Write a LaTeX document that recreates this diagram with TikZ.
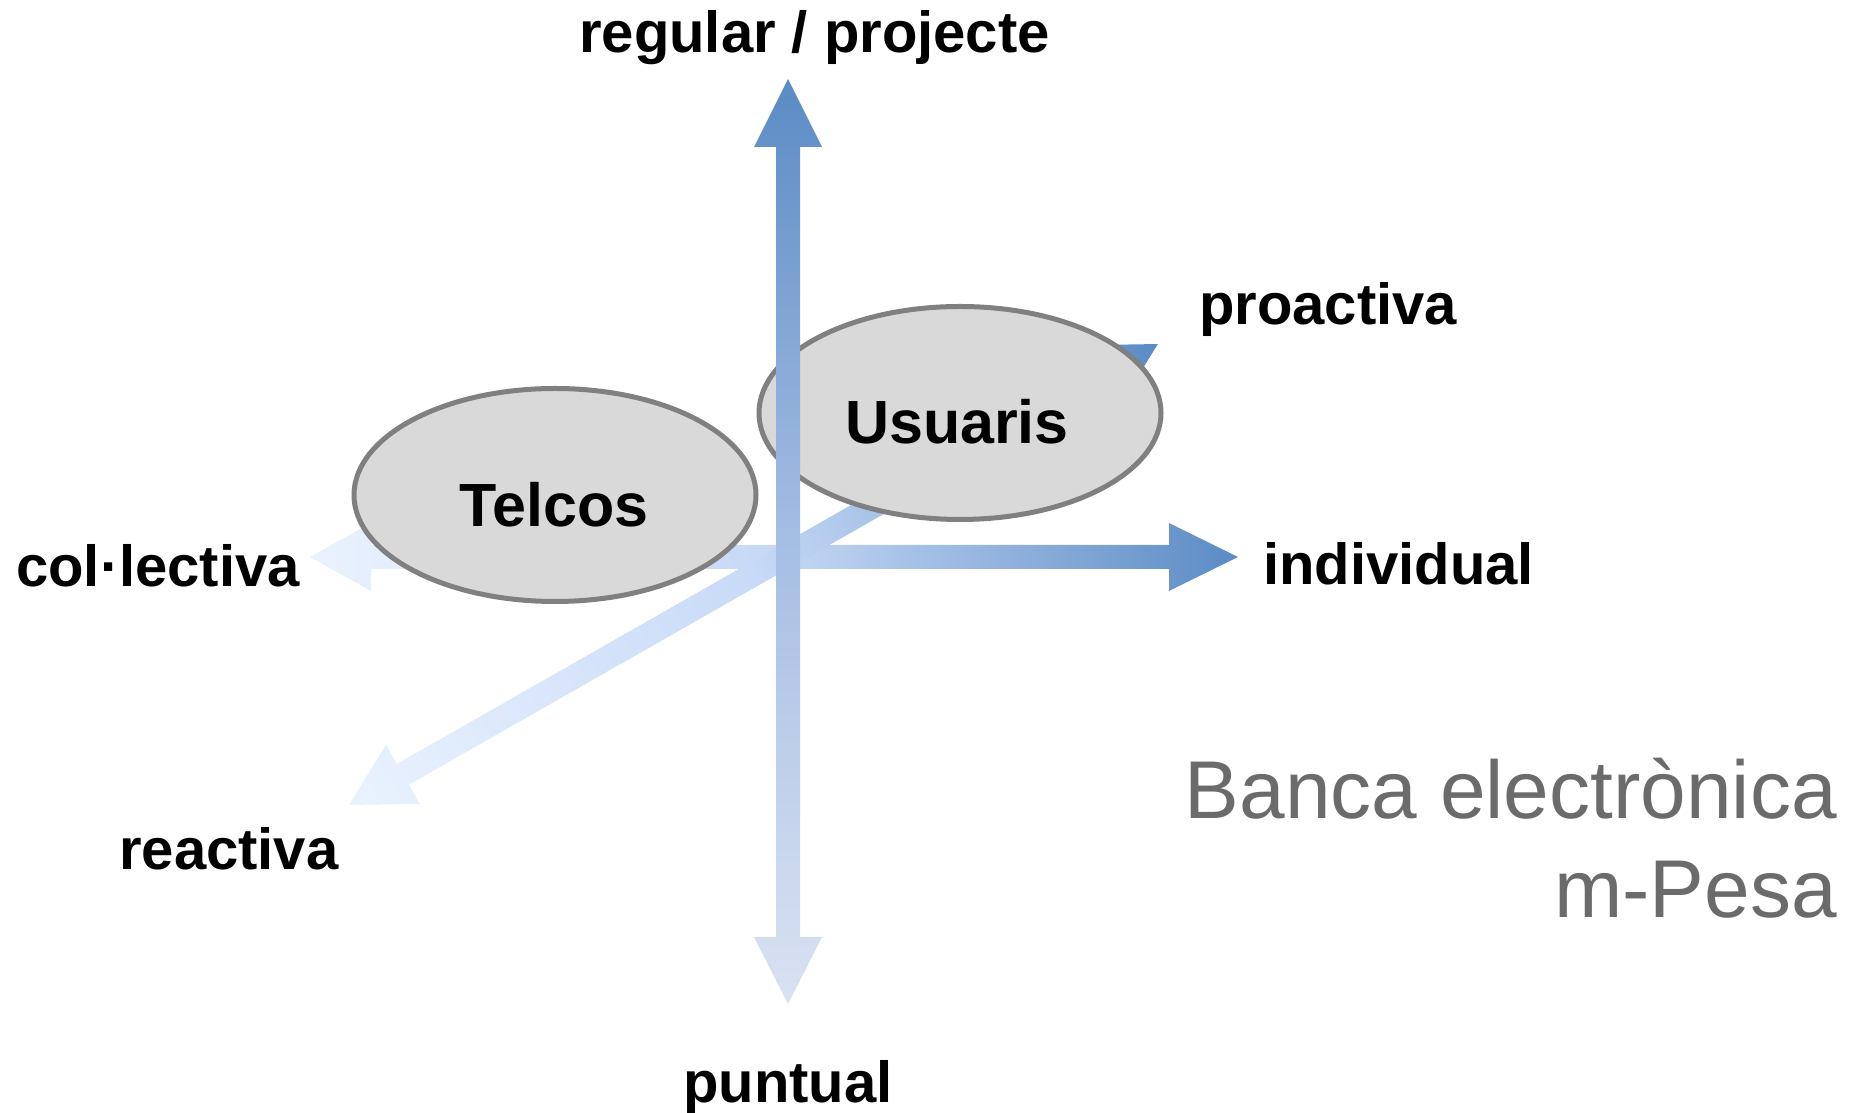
\documentclass[tikz,border=0pt]{standalone}
\usepackage{fontspec}
\setmainfont{Liberation Sans}
\usetikzlibrary{shapes.geometric}
\definecolor{dblue}{RGB}{91,139,197}
\definecolor{lblue}{RGB}{234,242,254}
\definecolor{vmid}{RGB}{165,190,228}
\definecolor{vlow}{RGB}{218,226,242}
\definecolor{hmid}{RGB}{198,216,245}
\definecolor{dmid}{RGB}{200,218,247}
\definecolor{ellfill}{RGB}{217,217,217}
\definecolor{ellline}{RGB}{128,128,128}
\definecolor{titlegray}{RGB}{107,107,107}
\tikzset{
  ellbox/.style={ellipse, draw=ellline, line width=5pt, fill=ellfill, minimum width=402pt, minimum height=213pt, inner sep=0pt},
  axislbl/.style={inner sep=0pt, font=\fontsize{58}{69}\selectfont\bfseries, text=black},
  elllbl/.style={inner sep=0pt, font=\fontsize{61}{72}\selectfont\bfseries, text=black},
  titlelbl/.style={inner sep=0pt, font=\fontsize{82}{98}\selectfont, text=titlegray}
}
\begin{document}
\begin{tikzpicture}[x=1pt,y=1pt]
\useasboundingbox (0,0) rectangle (1858,1113);
% named coordinates for arrow ends
\coordinate (vtop) at (788,1034);
\coordinate (vbot) at (788,109);
\coordinate (hleft) at (310,556);
\coordinate (hright) at (1238,556);
\coordinate (dlow) at (349,308);
\coordinate (dhigh) at (1158,769);
% horizontal arrow
\shade[left color=lblue, right color=dblue, middle color=hmid]
  (hleft) -- ++(61,34) -- ++(0,-22) -- (1169,568) -- (1169,590) -- (hright)
  -- (1169,522) -- (1169,544) -- (371,544) -- (371,522) -- cycle;
% diagonal arrow
\begin{scope}[transform canvas={shift={(349pt,308pt)},rotate=29.68}]
\shade[left color=lblue, right color=dblue, middle color=dmid]
  (0,0) -- (62,34) -- (62,12) -- (869,12) -- (869,34) -- (931,0)
  -- (869,-34) -- (869,-12) -- (62,-12) -- (62,-34) -- cycle;
\end{scope}
% ellipses
\node[ellbox] (telcos) at (555,618) {};
\node[ellbox] (usuaris) at (960,700) {};
% vertical arrow
\shade[top color=dblue, bottom color=vlow, middle color=vmid]
  (vtop) -- (822,966) -- (800,966) -- (800,176) -- (822,176) -- (vbot)
  -- (754,176) -- (776,176) -- (776,966) -- (754,966) -- cycle;
% labels
\node[elllbl, anchor=base] (tlbl) at (554,586) {Telcos};
\node[elllbl, anchor=base] (ulbl) at (957,669) {Usuaris};
\node[axislbl, anchor=base west] (lreg) at (579,1060) {regular / projecte};
\node[axislbl, anchor=base west] (lcol) at (16,526) {col·lectiva};
\node[axislbl, anchor=base west] (lind) at (1263,528) {individual};
\node[axislbl, anchor=base west] (lpro) at (1199,788) {proactiva};
\node[axislbl, anchor=base west] (lrea) at (119,243) {reactiva};
\node[axislbl, anchor=base west] (lpun) at (683,10) {puntual};
\node[titlelbl, anchor=base east] (ttl1) at (1837,294) {Banca electrònica};
\node[titlelbl, anchor=base east] (ttl2) at (1837,195) {m-Pesa};
\end{tikzpicture}
\end{document}
